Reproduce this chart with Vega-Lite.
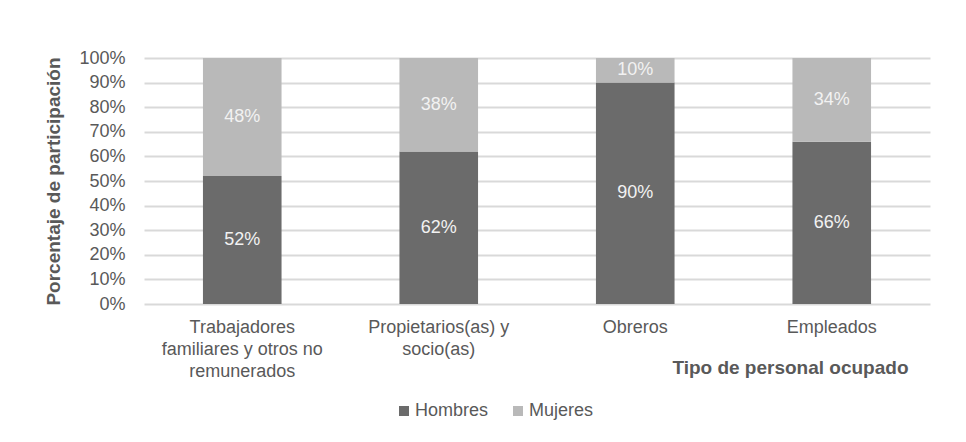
{
  "$schema": "https://vega.github.io/schema/vega-lite/v6.json",
  "width": 786,
  "height": 246,
  "autosize": {"type": "none"},
  "padding": {"left": 144, "top": 58, "right": 36, "bottom": 138},
  "background": "white",
  "config": {
    "font": "Liberation Sans",
    "view": {"stroke": null},
    "axisY": {
      "format": ".0%",
      "labelOverlap": false,
      "labelFontSize": 18,
      "labelColor": "#595959",
      "labelPadding": 19,
      "ticks": false,
      "domain": false,
      "grid": true,
      "gridColor": "#d9d9d9",
      "gridWidth": 2,
      "titleFontSize": 19,
      "titleFontWeight": "bold",
      "titleColor": "#595959",
      "titleAngle": -90,
      "titleX": -91,
      "titleY": 123,
      "titleAlign": "center",
      "titleBaseline": "middle"
    }
  },
  "data": {
    "values": [
      {"tipo": "Trabajadores familiares y otros no remunerados", "sexo": "Hombres", "share": 0.52},
      {"tipo": "Trabajadores familiares y otros no remunerados", "sexo": "Mujeres", "share": 0.48},
      {"tipo": "Propietarios(as) y socio(as)", "sexo": "Hombres", "share": 0.62},
      {"tipo": "Propietarios(as) y socio(as)", "sexo": "Mujeres", "share": 0.38},
      {"tipo": "Obreros", "sexo": "Hombres", "share": 0.90},
      {"tipo": "Obreros", "sexo": "Mujeres", "share": 0.10},
      {"tipo": "Empleados", "sexo": "Hombres", "share": 0.66},
      {"tipo": "Empleados", "sexo": "Mujeres", "share": 0.34}
    ]
  },
  "transform": [
    {"stack": "share", "groupby": ["tipo"], "as": ["lo", "hi"], "sort": [{"field": "sexo", "order": "ascending"}]},
    {"calculate": "(datum.lo + datum.hi) / 2", "as": "mid"}
  ],
  "encoding": {
    "x": {
      "field": "tipo",
      "type": "nominal",
      "sort": ["Trabajadores familiares y otros no remunerados", "Propietarios(as) y socio(as)", "Obreros", "Empleados"],
      "scale": {"paddingInner": 0.6, "paddingOuter": 0.3},
      "axis": {
        "labelAngle": 0,
        "labelExpr": "datum.value == 'Trabajadores familiares y otros no remunerados' ? ['Trabajadores', 'familiares y otros no', 'remunerados'] : datum.value == 'Propietarios(as) y socio(as)' ? ['Propietarios(as) y', 'socio(as)'] : datum.value",
        "labelFontSize": 18,
        "labelColor": "#595959",
        "labelLineHeight": 22,
        "labelPadding": 14,
        "labelLimit": 400,
        "domain": false,
        "ticks": false,
        "grid": false,
        "title": "Tipo de personal ocupado",
        "titleFontSize": 19,
        "titleFontWeight": "bold",
        "titleColor": "#595959",
        "titleX": 764,
        "titleY": 63,
        "titleAlign": "right",
        "titleBaseline": "middle"
      }
    }
  },
  "layer": [
    {
      "mark": {"type": "bar"},
      "encoding": {
        "y": {
          "field": "lo",
          "type": "quantitative",
          "scale": {"domain": [0, 1]},
          "axis": {"title": "Porcentaje de participación", "tickCount": 10}
        },
        "y2": {"field": "hi"},
        "color": {
          "field": "sexo",
          "type": "nominal",
          "scale": {"domain": ["Hombres", "Mujeres"], "range": ["#6b6b6b", "#b9b9b9"]},
          "legend": {
            "orient": "none",
            "legendX": 251,
            "legendY": 344,
            "direction": "horizontal",
            "title": null,
            "symbolType": "square",
            "symbolSize": 100,
            "symbolStrokeWidth": 0,
            "labelFontSize": 18,
            "labelColor": "#595959",
            "labelOffset": 2,
            "columnPadding": 20
          }
        }
      }
    },
    {
      "mark": {"type": "text", "color": "#f2f2f2", "fontSize": 18},
      "encoding": {
        "y": {"field": "mid", "type": "quantitative", "axis": {"title": "Porcentaje de participación", "tickCount": 10}},
        "text": {"field": "share", "type": "quantitative", "format": ".0%"}
      }
    }
  ]
}
